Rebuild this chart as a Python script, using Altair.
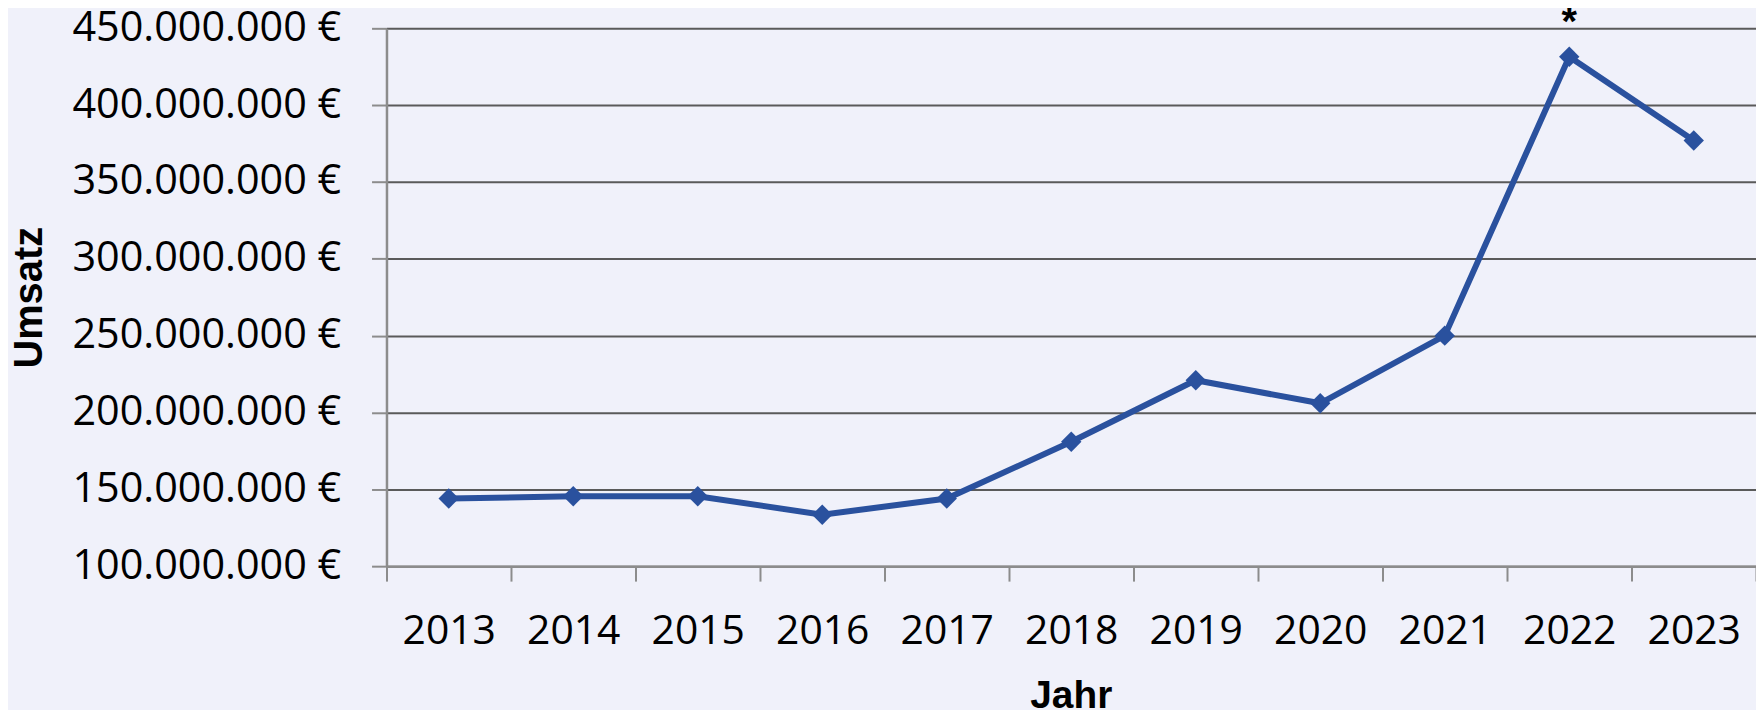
import altair as alt
import pandas as pd

years = ["2013", "2014", "2015", "2016", "2017", "2018", "2019", "2020", "2021", "2022", "2023"]
umsatz = [144.0e6, 145.5e6, 145.5e6, 133.5e6, 144.0e6, 181.0e6, 221.0e6, 206.0e6, 250.0e6, 431.5e6, 377.0e6]
y_ticks = [100e6, 150e6, 200e6, 250e6, 300e6, 350e6, 400e6, 450e6]
note_years = ["2022"]
note_texts = ["*"]

df = pd.DataFrame({"Jahr": years, "Umsatz": umsatz})
notes = pd.DataFrame({"Jahr": note_years, "Text": note_texts,
                      "Umsatz": [umsatz[years.index(y)] for y in note_years]})

LINE = "#2A519E"
BG = "#F0F1FA"

x = alt.X("Jahr:O", title="Jahr",
          scale=alt.Scale(paddingInner=0, paddingOuter=0),
          axis=alt.Axis(labelAngle=0, tickBand="extent", tickSize=15, tickColor="#8C8C8C",
                        tickWidth=2, domainColor="#8C8C8C", domainWidth=2.5,
                        labelFont="Open Sans", labelFontSize=41, labelColor="#000000",
                        labelBaseline="alphabetic", labelPadding=63, labelLimit=500,
                        titleFont="Liberation Sans", titleFontSize=39, titleFontWeight="bold",
                        titleColor="#000000", titleX=687, titleY=142,
                        titleBaseline="alphabetic", titleAlign="center", grid=False))
y = alt.Y("Umsatz:Q", title="Umsatz",
          scale=alt.Scale(domain=[100e6, 450e6], nice=False, zero=False),
          axis=alt.Axis(values=y_ticks,
                        labelExpr="replace(format(datum.value, ',.0f'), /,/g, '.') + ' €'",
                        tickSize=15, tickColor="#8C8C8C", tickWidth=2,
                        domainColor="#8C8C8C", domainWidth=2.5,
                        gridColor="#5A5A5A", gridWidth=2,
                        labelFont="Open Sans", labelFontSize=41.5, labelColor="#000000",
                        labelPadding=31, labelLimit=500,
                        titleFont="Liberation Sans", titleFontSize=40, titleFontWeight="bold",
                        titleColor="#000000", titleAngle=270, titleX=-346, titleY=270,
                        titleAlign="center", titleBaseline="alphabetic"))

line = alt.Chart(df).mark_line(color=LINE, strokeWidth=6).encode(x=x, y=y)
pts = alt.Chart(df).mark_point(shape="diamond", filled=True, color=LINE, size=420, opacity=1).encode(x=x, y=y)
txt = alt.Chart(notes).mark_text(font="Liberation Sans", fontWeight="bold", fontSize=40,
                                 baseline="alphabetic", dy=-22, color="#000000").encode(
    x=alt.X("Jahr:O", scale=alt.Scale(domain=years)), y="Umsatz:Q", text="Text:N")

chart = alt.layer(line, pts, txt).properties(
    width=1375, height=540,
    background=BG,
    padding={"left": 380, "top": 19, "right": 0, "bottom": 143},
    autosize=alt.AutoSizeParams(type="none"),
).configure_view(stroke=None)

chart.save("out.html", embed_options={"renderer": "svg", "actions": False})
